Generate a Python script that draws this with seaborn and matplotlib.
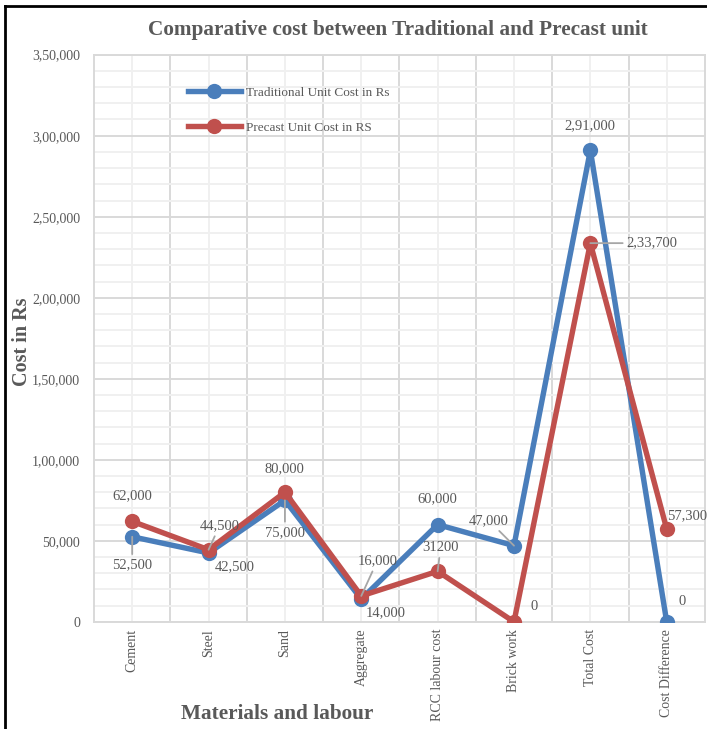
import matplotlib
matplotlib.use("Agg")
import matplotlib.pyplot as plt
from matplotlib.lines import Line2D
from matplotlib.ticker import FixedLocator, MultipleLocator, FuncFormatter
import seaborn as sns
import pandas as pd

# ---- data -------------------------------------------------------------
categories = ["Cement", "Steel", "Sand", "Aggregate", "RCC labour cost",
              "Brick work", "Total Cost", "Cost Difference"]
traditional = [52500, 42500, 75000, 14000, 60000, 47000, 291000, 0]
precast = [62000, 44500, 80000, 16000, 31200, 0, 233700, 57300]
series_names = ["Traditional Unit Cost in Rs", "Precast Unit Cost in RS"]
# whether a value label uses digit grouping
precast_grouped = [True, True, True, True, False, True, True, True]

# label placement (offset in pixels from the point) and leader-line flags
trad_offsets = [(0, -28), (26, -14), (0, -32), (24, -14),
                (0, 26), (-25, 25), (0, 25), (15, 20)]
trad_leader = [True, False, True, False, False, True, False, False]
pre_offsets = [(0, 26), (11, 24), (0, 24), (16, 35),
               (3, 24), (20, 15), (62, 0), (20, 13)]
pre_leader = [False, True, False, True, True, False, True, False]

BLUE = "#4a7ebb"
RED = "#c0504d"
TEXT = "#595959"


def indian(v):
    s = str(int(round(v)))
    if len(s) <= 3:
        return s
    head, tail = s[:-3], s[-3:]
    parts = []
    while len(head) > 2:
        parts.insert(0, head[-2:])
        head = head[:-2]
    if head:
        parts.insert(0, head)
    return ",".join(parts + [tail])


df = pd.DataFrame({
    "pos": list(range(len(categories))) * 2,
    "cost": traditional + precast,
    "series": [series_names[0]] * len(categories) + [series_names[1]] * len(categories),
})

plt.rcParams["font.family"] = ["Liberation Serif", "DejaVu Serif"]

fig = plt.figure(figsize=(7.07, 7.29), dpi=100)
ax = fig.add_axes([0.133, 0.147, 0.864, 0.778])

sns.lineplot(data=df, x="pos", y="cost", hue="series",
             hue_order=series_names, palette=[BLUE, RED],
             marker="o", markersize=11, markeredgewidth=0,
             linewidth=3.9, sort=False, ax=ax, zorder=3)

ax.set_xlim(-0.5, len(categories) - 0.5)
ax.set_ylim(0, 350000)

# gridlines: major between categories, minor at the category centres
ax.xaxis.set_major_locator(FixedLocator([i + 0.5 for i in range(len(categories) - 1)]))
ax.xaxis.set_minor_locator(FixedLocator(list(range(len(categories)))))
ax.yaxis.set_major_locator(MultipleLocator(50000))
ax.yaxis.set_minor_locator(MultipleLocator(10000))
ax.grid(which="major", color="#d9d9d9", linewidth=1.4, zorder=0)
ax.grid(which="minor", color="#f0f0f0", linewidth=1.4, zorder=0)
ax.set_axisbelow(True)

ax.xaxis.set_major_formatter(FuncFormatter(lambda v, p: ""))
ax.set_xticks(range(len(categories)), minor=True)
ax.set_xticklabels(categories, minor=True, rotation=90, fontsize=10, color=TEXT)
ax.yaxis.set_major_formatter(FuncFormatter(lambda v, p: indian(v)))
ax.tick_params(axis="y", which="both", labelsize=10, labelcolor=TEXT, length=0, pad=10)
ax.tick_params(axis="x", which="both", length=0, pad=5)

for sp in ax.spines.values():
    sp.set_color("#d9d9d9")
    sp.set_linewidth(1.4)

ax.set_xlabel("")
ax.set_ylabel("")
fig.text(277 / 707, 1 - 714 / 729, "Materials and labour", fontsize=15.3,
         fontweight="bold", color=TEXT, ha="center", va="center")
fig.text(22 / 707, 1 - 342 / 729, "Cost in Rs", fontsize=14.5, fontweight="bold",
         color=TEXT, ha="center", va="center", rotation=90)
fig.text(398 / 707, 1 - 30 / 729,
         "Comparative cost between Traditional and Precast unit",
         fontsize=15.3, fontweight="bold", color=TEXT, ha="center", va="center")

# value labels
def put_labels(values, offsets, leaders, grouped):
    for i, (v, off, ld, g) in enumerate(zip(values, offsets, leaders, grouped)):
        txt = indian(v) if g else str(v)
        kw = {}
        if ld:
            kw["arrowprops"] = dict(arrowstyle="-", color="#a6a6a6", lw=1.3,
                                    shrinkA=1, shrinkB=0)
        ax.annotate(txt, xy=(i, v), xytext=off, textcoords="offset pixels",
                    ha="center", va="center", fontsize=10.5, color=TEXT,
                    zorder=5, annotation_clip=False, **kw)

put_labels(traditional, trad_offsets, trad_leader, [True] * len(traditional))
put_labels(precast, pre_offsets, pre_leader, precast_grouped)

# legend
handles = [Line2D([], [], color=c, lw=3.9, marker="o", markersize=11,
                  markeredgewidth=0) for c in (BLUE, RED)]
ax.legend(handles, series_names, loc="upper left",
          bbox_to_anchor=(0.154, 0.944), frameon=False, fontsize=9.5,
          handlelength=4.0, handletextpad=0.4, labelspacing=1.75,
          borderpad=0, borderaxespad=0, labelcolor=TEXT)

# outer frame
fig.add_artist(Line2D([0.0075, 0.0075], [0, 0.992], transform=fig.transFigure,
                      color="black", lw=2))
fig.add_artist(Line2D([0.0075, 1.0], [0.992, 0.992], transform=fig.transFigure,
                      color="black", lw=2))

fig.savefig("out.png", dpi=100, facecolor="white")
